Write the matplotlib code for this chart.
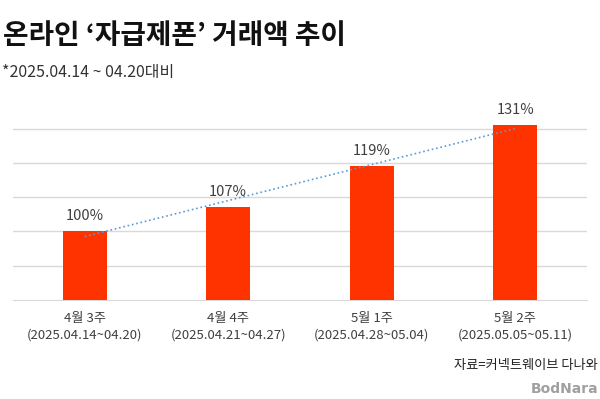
import numpy as np
import matplotlib
matplotlib.use('Agg')
import matplotlib.pyplot as plt

plt.rcParams['font.family'] = ['Noto Sans CJK KR', 'DejaVu Sans']

# 데이터
주차 = ['4월 3주', '4월 4주', '5월 1주', '5월 2주']
기간 = ['(2025.04.14~04.20)', '(2025.04.21~04.27)', '(2025.04.28~05.04)', '(2025.05.05~05.11)']
거래액 = [100, 107, 119, 131]

fig = plt.figure(figsize=(6, 3.99), dpi=100)
ax = fig.add_axes([13/600, 99/399, 574/600, 188.6/399])

x = np.arange(len(거래액))
ax.bar(x, 거래액, width=0.307, color='#FF3300', zorder=3)

# 추세선 (선형)
기울기, 절편 = np.polyfit(x, 거래액, 1)
ax.plot(x, 기울기*x + 절편, ':', color='#5B9BD5', lw=1.2, zorder=4)

for xi, v in zip(x, 거래액):
    ax.text(xi, v + 2.4, f'{v}%', ha='center', va='bottom', fontsize=10.5, color='#404040')

ax.set_xlim(-0.5, 3.5)
ax.set_ylim(80, 135)
ax.set_yticks([90, 100, 110, 120, 130])
ax.yaxis.grid(True, color='#d9d9d9', lw=1)
ax.set_axisbelow(True)
for s in ['top', 'right', 'left']:
    ax.spines[s].set_visible(False)
ax.spines['bottom'].set_color('#d9d9d9')

ax.set_xticks(x)
ax.set_xticklabels([f'{a}\n{b}' for a, b in zip(주차, 기간)])
ax.tick_params(left=False, labelleft=False, bottom=False,
               labelsize=9.5, labelcolor='#404040', pad=5)
for lab in ax.get_xticklabels():
    lab.set_linespacing(1.35)

fig.text(0.005, 0.91, '온라인 ‘자급제폰’ 거래액 추이', fontsize=20, fontweight='heavy',
         color='#111111', va='center', ha='left')
fig.text(0.004, 0.818, '*2025.04.14 ~ 04.20대비', fontsize=11.5, color='#333333',
         va='center', ha='left')
fig.text(0.997, 0.085, '자료=커넥트웨이브 다나와', fontsize=9.5, color='#222222',
         va='center', ha='right')
fig.text(0.997, 0.025, 'BodNara', fontsize=10, fontweight='bold', color='#a0a0a0',
         va='center', ha='right', family='DejaVu Sans')

fig.savefig('out.png', dpi=100)
